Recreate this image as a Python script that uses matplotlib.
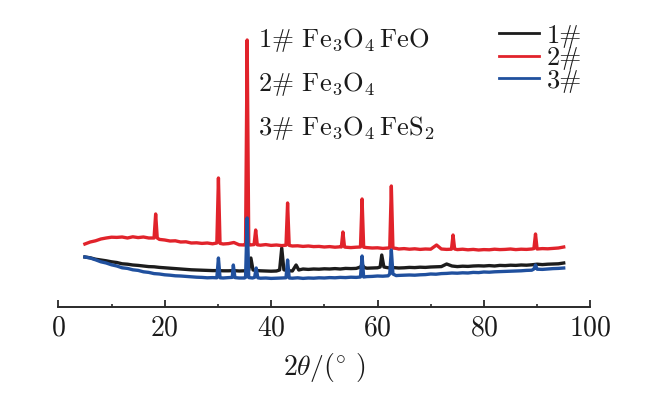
import matplotlib
matplotlib.use("Agg")
import matplotlib.pyplot as plt
from matplotlib.ticker import MultipleLocator

plt.rcParams['font.family'] = 'serif'
plt.rcParams['font.serif'] = ['cmr10']
plt.rcParams['mathtext.fontset'] = 'cm'
plt.rcParams['axes.formatter.use_mathtext'] = True

# ---- data (intensity in a.u.) ----
x1 = [5, 6, 7, 8, 9, 10, 11, 12, 13, 14, 15, 16, 17, 18, 19, 20, 21, 22, 23, 24, 25,
      26, 27, 28, 29, 30, 31, 32, 33, 34, 35, 35.8, 36.2, 36.6, 37, 38, 39, 40, 41, 41.6,
      42, 42.4, 43, 44, 44.7, 45.2, 46, 47, 48, 49, 50, 51, 52, 53, 54, 55, 56, 56.8, 57.1,
      57.5, 58, 59, 60, 60.5, 60.8, 61.2, 62, 63, 64, 65, 66, 67, 68, 69, 70, 71, 72, 73,
      74, 75, 76, 77, 78, 79, 80, 81, 82, 83, 84, 85, 86, 87, 88, 89, 90, 91, 92, 93, 94, 95]
y1 = [500, 492, 478, 470, 462, 452, 445, 432, 428, 420, 416, 410, 404, 402, 396, 392, 388, 384, 380, 376, 372,
      370, 368, 366, 364, 364, 362, 362, 364, 360, 362, 368, 490, 370, 366, 362, 360, 358, 360, 370,
      590, 372, 364, 360, 420, 370, 380, 376, 380, 378, 382, 380, 384, 380, 386, 384, 386, 400, 425,
      395, 388, 390, 392, 400, 520, 400, 392, 394, 390, 392, 396, 394, 398, 396, 400, 402, 404, 430,
      410, 404, 408, 406, 410, 412, 410, 414, 410, 416, 414, 418, 416, 420, 418, 422, 428, 424, 428, 430, 432, 440]

x2 = [5, 6, 7, 8, 9, 10, 11, 12, 13, 14, 15, 16, 17, 18, 18.3, 18.6, 19, 20, 21, 22, 23, 24, 25,
      26, 27, 28, 29, 29.8, 30.1, 30.4, 31, 32, 33, 34, 35, 35.2, 35.5, 35.8, 36, 36.8, 37.1, 37.4,
      38, 39, 40, 41, 42, 42.8, 43.1, 43.4, 44, 45, 46, 47, 48, 49, 50, 51, 52, 53, 53.2, 53.5, 53.8,
      54, 55, 56, 56.8, 57.1, 57.4, 58, 59, 60, 61, 62, 62.3, 62.6, 62.9, 63.5, 64, 65, 66, 67, 68, 69,
      70, 71.1, 72, 73, 73.9, 74.2, 74.5, 75, 76, 77, 78, 79, 80, 81, 82, 83, 84, 85, 86, 87, 88, 89,
      89.4, 89.7, 90, 91, 92, 93, 94, 95]
y2 = [630, 650, 662, 680, 690, 698, 696, 700, 690, 702, 694, 700, 690, 690, 930, 690, 676, 670, 660, 662, 650, 652, 640,
      642, 636, 640, 632, 640, 1290, 636, 630, 634, 645, 622, 620, 630, 2670, 625, 620, 624, 770, 622,
      618, 624, 616, 620, 614, 618, 1040, 616, 610, 612, 606, 610, 604, 606, 600, 604, 598, 602, 600, 750, 600,
      598, 594, 598, 600, 1080, 598, 594, 590, 592, 586, 590, 592, 1210, 590, 586, 580, 584, 578, 582, 576, 580,
      578, 620, 580, 576, 578, 720, 580, 574, 578, 572, 576, 570, 574, 572, 578, 574, 576, 580, 574, 578, 576, 580,
      584, 730, 580, 584, 582, 586, 590, 600]

x3 = [5, 6, 7, 8, 9, 10, 11, 12, 13, 14, 15, 16, 17, 18, 19, 20, 21, 22, 23, 24, 25, 26, 27, 28,
      29, 29.8, 30.1, 30.4, 31, 32, 32.7, 32.9, 33.2, 34, 35, 35.2, 35.5, 35.8, 36.5, 36.9, 37.2, 37.5,
      38, 39, 40, 41, 42, 42.8, 43.1, 43.4, 44, 45, 46, 47, 48, 49, 50, 51, 52, 53, 54, 55, 56, 56.8,
      57.1, 57.4, 58, 59, 60, 61, 62, 62.3, 62.6, 62.9, 63.5, 64, 65, 66, 67, 68, 69, 70, 71, 72, 73,
      74, 75, 76, 77, 78, 79, 80, 81, 82, 83, 84, 85, 86, 87, 88, 89, 89.4, 89.7, 90, 91, 92, 93, 94, 95]
y3 = [500, 490, 472, 452, 440, 422, 410, 392, 386, 372, 366, 352, 346, 334, 330, 322, 318, 312, 310, 306, 302, 298, 296, 292,
      294, 292, 490, 292, 290, 294, 296, 420, 294, 290, 290, 296, 890, 294, 290, 296, 390, 292,
      288, 290, 286, 288, 290, 292, 470, 290, 288, 292, 286, 290, 288, 292, 290, 294, 292, 296, 294, 298, 296, 300,
      510, 300, 304, 306, 310, 308, 312, 330, 570, 330, 314, 316, 318, 320, 318, 322, 324, 330, 328, 334, 336,
      340, 338, 342, 340, 346, 344, 350, 348, 352, 354, 356, 358, 360, 362, 366, 368, 380, 420, 378, 376, 380, 384, 386, 390]

labels = ['1#', '2#', '3#']
colors = ['#1c1c1c', '#e1232b', '#20509e']
phase_notes = [r'1# Fe$_3$O$_4\,$FeO', r'2# Fe$_3$O$_4$', r'3# Fe$_3$O$_4\,$FeS$_2$']

W, H = 656, 398
fig = plt.figure(figsize=(W / 100, H / 100), dpi=100)
left, right = 58.3 / W, 590.3 / W
bottom, top = 1 - 307 / H, 1 - 20 / H
ax = fig.add_axes([left, bottom, right - left, top - bottom])

for xs, ys, lab, c in zip([x1, x2, x3], [y1, y2, y3], labels, colors):
    ax.plot(xs, ys, color=c, lw=2.4, label=lab, solid_joinstyle='round')

ax.set_xlim(0, 100)
ax.set_ylim(0, 2870)
for s in ['left', 'right', 'top']:
    ax.spines[s].set_visible(False)
ax.spines['bottom'].set_linewidth(1.4)
ax.spines['bottom'].set_color('#2a2a2a')
ax.set_yticks([])
ax.xaxis.set_major_locator(MultipleLocator(20))
ax.xaxis.set_minor_locator(MultipleLocator(10))
ax.tick_params(axis='x', which='major', direction='in', length=5, width=1.3,
               labelsize=20, pad=6, colors='#2a2a2a', labelcolor='#1a1a1a')
ax.tick_params(axis='x', which='minor', direction='in', length=2.5, width=1.2, colors='#2a2a2a')
ax.set_xlabel(r'$2\theta/(^{\circ}\ )$', fontsize=20, labelpad=7, color='#1a1a1a')

for i, t in enumerate(phase_notes):
    fig.text(258 / W, 1 - (47 + 44 * i) / H, t, fontsize=19, va='baseline', ha='left', color='#1a1a1a')

leg = ax.legend(loc='upper left', bbox_to_anchor=(499 / W, 1 - 24 / H), bbox_transform=fig.transFigure,
                frameon=False, fontsize=19, handlelength=1.5, handletextpad=0.3,
                labelspacing=-0.05, borderpad=0, borderaxespad=0)
for line in leg.get_lines():
    line.set_linewidth(2.0)
for t in leg.get_texts():
    t.set_color('#1a1a1a')

fig.savefig('out.png', dpi=100)
